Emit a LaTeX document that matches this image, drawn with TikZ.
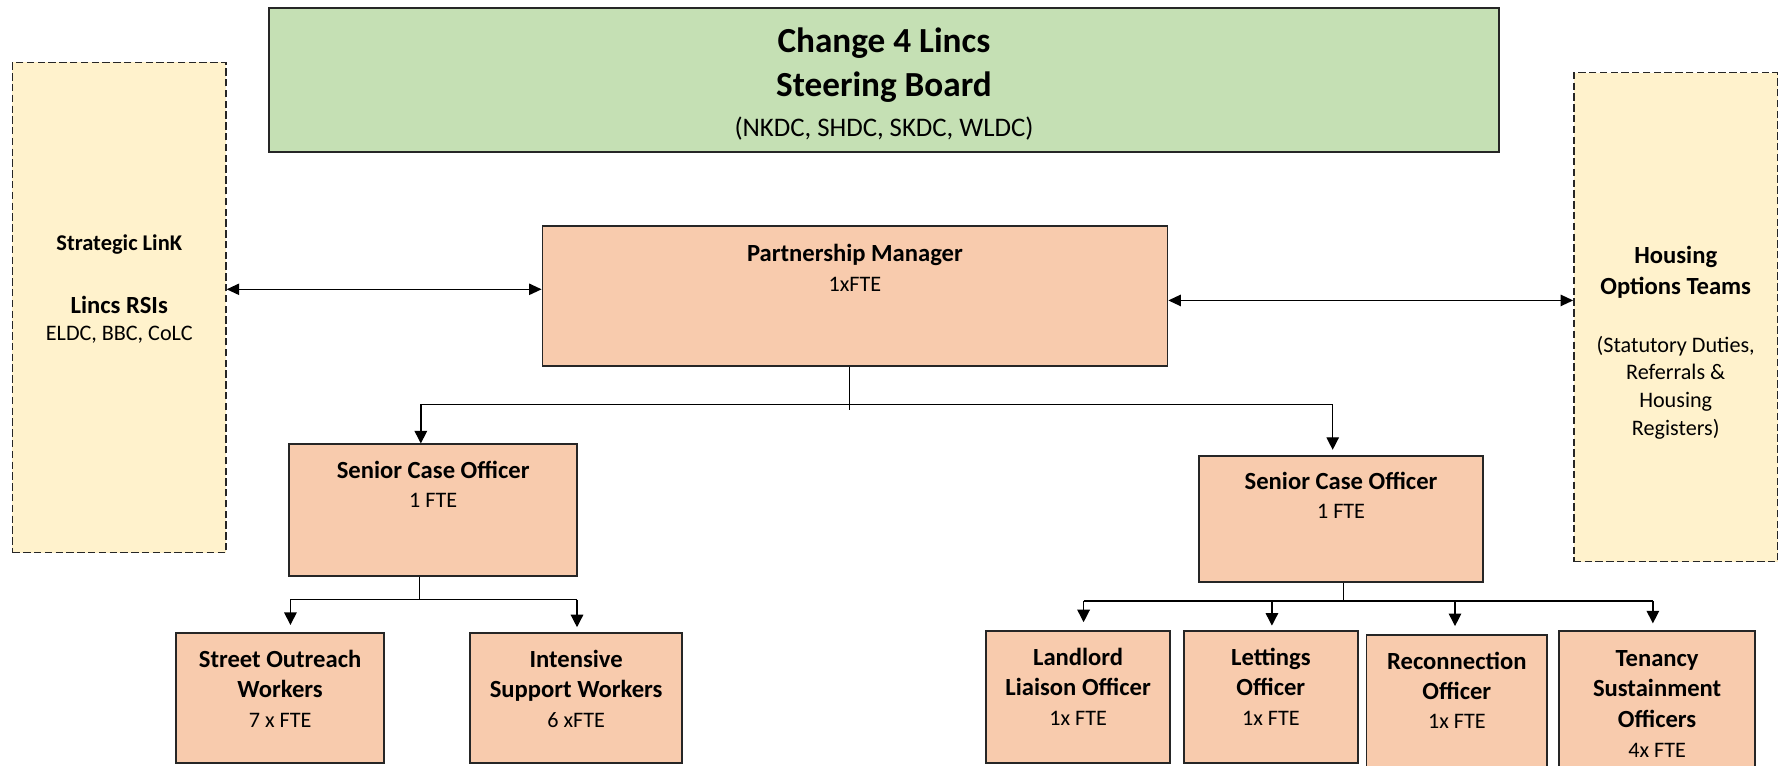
\documentclass[tikz,border=0pt]{standalone}
\usepackage{fontspec}
\setmainfont{Carlito}
\usetikzlibrary{arrows.meta}
\definecolor{peach}{HTML}{F8CBAD}
\definecolor{steergreen}{HTML}{C5E0B4}
\definecolor{cream}{HTML}{FFF2CC}
\newcommand{\myStrut}[1]{\rule{0pt}{#1pt}}
\newcommand{\bxf}{\fontsize{21.7}{26}\selectfont\bfseries}
\newcommand{\rgf}{\fontsize{19.5}{24}\selectfont}
\tikzset{
  peachbox/.style={draw=black!85, line width=1.6pt, fill=peach, inner sep=0pt},
  greenbox/.style={draw=black!85, line width=1.6pt, fill=steergreen, inner sep=0pt},
  dashbox/.style={draw=black!85, line width=1.2pt, dash pattern=on 6.5pt off 3pt, fill=cream, inner sep=0pt},
  boxtext/.style={anchor=north, inner sep=0pt, align=center, text=black},
  conn/.style={line width=1.2pt, draw=black},
  arr/.style={conn, -{Triangle[length=11pt,width=11pt]}},
  dblarr/.style={conn, {Triangle[length=11pt,width=10pt]}-{Triangle[length=11pt,width=10pt]}},
}
\begin{document}
\begin{tikzpicture}[x=1pt,y=-1pt]
\useasboundingbox (0,0) rectangle (1568,674);
\fill[white] (0,0) rectangle (1568,674);

% boxes
\node[greenbox, minimum width=1083.5pt, minimum height=127pt] (steer) at (778.25,70.5) {};
\node[dashbox, minimum width=188pt, minimum height=431.6pt] (leftbox) at (105,270.8) {};
\node[dashbox, minimum width=179.4pt, minimum height=430.5pt] (rightbox) at (1475.3,279.25) {};
\node[peachbox, minimum width=550.2pt, minimum height=123pt] (pm) at (752.7,260.5) {};
\node[peachbox, minimum width=253.3pt, minimum height=115.6pt] (sco1) at (381.35,449) {};
\node[peachbox, minimum width=250.1pt, minimum height=110.9pt] (sco2) at (1180.65,457.25) {};
\node[peachbox, minimum width=182.8pt, minimum height=115pt] (street) at (246.6,614.5) {};
\node[peachbox, minimum width=186.6pt, minimum height=115pt] (intens) at (507.2,614.5) {};
\node[peachbox, minimum width=162.3pt, minimum height=116.4pt] (landlord) at (949.15,613.8) {};
\node[peachbox, minimum width=153.3pt, minimum height=116.4pt] (lettings) at (1118.85,613.8) {};
\node[peachbox, minimum width=159.2pt, minimum height=121pt] (reconn) at (1282.6,619.5) {};
\node[peachbox, minimum width=172.6pt, minimum height=124.4pt] (tenancy) at (1458.9,617.8) {};

% texts
\node[boxtext, font=\fontsize{31}{38.4}\selectfont\bfseries] (steerT) at (778.25,20.1)
  {\myStrut{26}Change 4 Lincs\\Steering Board\\[-3.2pt]{\mdseries\fontsize{23.6}{30}\selectfont (NKDC, SHDC, SKDC, WLDC)}};
\node[boxtext, font=\fontsize{21.7}{24.3}\selectfont] (leftT) at (105,203.2)
  {\myStrut{17}{\bfseries\fontsize{19.8}{24}\selectfont Strategic LinK}\\[30.9pt]{\bxf Lincs RSIs}\\{\rgf ELDC, BBC, CoLC}};
\node[boxtext, font=\fontsize{19.5}{24.4}\selectfont] (rightT) at (1475.3,213.4)
  {\myStrut{18}{\bxf Housing}\\[2.9pt]{\bxf Options Teams}\\[26.8pt]{\rgf (Statutory Duties,}\\{\rgf Referrals \&}\\{\rgf Housing}\\{\rgf Registers)}};
\node[boxtext, font=\fontsize{19.5}{26.6}\selectfont] (pmT) at (752.7,211.9)
  {\myStrut{18}{\bxf Partnership Manager}\\{\rgf 1xFTE}};
\node[boxtext, font=\fontsize{19.5}{24.9}\selectfont] (sco1T) at (381.35,403.3)
  {\myStrut{18}{\bxf Senior Case Officer}\\{\rgf 1 FTE}};
\node[boxtext, font=\fontsize{19.5}{25.8}\selectfont] (sco2T) at (1180.65,412.9)
  {\myStrut{18}{\bxf Senior Case Officer}\\{\rgf 1 FTE}};
\node[boxtext, font=\fontsize{19.5}{26.4}\selectfont] (streetT) at (246.6,569.4)
  {\myStrut{18}{\bxf Street Outreach}\\{\bxf Workers}\\{\rgf 7 x FTE}};
\node[boxtext, font=\fontsize{19.5}{26.4}\selectfont] (intensT) at (507.2,569.4)
  {\myStrut{18}{\bxf Intensive}\\{\bxf Support Workers}\\{\rgf 6 xFTE}};
\node[boxtext, font=\fontsize{19.5}{26.25}\selectfont] (landlordT) at (949.15,567.6)
  {\myStrut{18}{\bxf Landlord}\\{\bxf Liaison Officer}\\{\rgf 1x FTE}};
\node[boxtext, font=\fontsize{19.5}{26.25}\selectfont] (lettingsT) at (1118.85,567.6)
  {\myStrut{18}{\bxf Lettings}\\{\bxf Officer}\\{\rgf 1x FTE}};
\node[boxtext, font=\fontsize{19.5}{25.75}\selectfont] (reconnT) at (1282.6,571.5)
  {\myStrut{18}{\bxf Reconnection}\\{\bxf Officer}\\{\rgf 1x FTE}};
\node[boxtext, font=\fontsize{19.5}{26.7}\selectfont] (tenancyT) at (1458.9,568.5)
  {\myStrut{18}{\bxf Tenancy}\\{\bxf Sustainment}\\{\bxf Officers}\\{\rgf 4x FTE}};

% side links
\coordinate (pmL) at ([yshift=5.8pt]pm.west);
\coordinate (pmR) at ([yshift=-4pt]pm.east);
\draw[dblarr] (leftbox.east |- pmL) -- (pmL);
\draw[dblarr] (pmR) -- (pmR -| rightbox.west);

% partnership manager tree
\coordinate (pmDrop) at (747.7,361);
\coordinate (busL) at (370.5,356);
\coordinate (busR) at (1173.3,356);
\draw[conn] (pm.south -| pmDrop) -- (pmDrop);
\draw[conn] (busL) -- (busR);
\draw[arr] (busL) -- (sco1.north -| busL);
\draw[arr, shorten >=5pt] (busR) -- (sco2.north -| busR);

% senior case officer 1 tree
\coordinate (b1) at (369.5,528);
\coordinate (b1L) at (255.7,528);
\coordinate (b1R) at (508,528);
\draw[conn] (sco1.south -| b1) -- (b1);
\draw[conn] (b1L) -- (b1R);
\draw[arr, shorten >=6pt] (b1L) -- (street.north -| b1L);
\draw[arr, shorten >=4pt] (b1R) -- (intens.north -| b1R);

% senior case officer 2 tree
\coordinate (b2) at (1182.7,529);
\coordinate (b2a) at (954,529);
\coordinate (b2b) at (1119.8,529);
\coordinate (b2c) at (1281,529);
\coordinate (b2d) at (1455.2,529);
\draw[conn] (sco2.south -| b2) -- (b2);
\draw[conn] (b2a) -- (b2d);
\draw[arr, shorten >=7pt] (b2a) -- (landlord.north -| b2a);
\draw[arr, shorten >=4pt] (b2b) -- (lettings.north -| b2b);
\draw[arr, shorten >=7pt] (b2c) -- (reconn.north -| b2c);
\draw[arr, shorten >=6pt] (b2d) -- (tenancy.north -| b2d);
\end{tikzpicture}
\end{document}
